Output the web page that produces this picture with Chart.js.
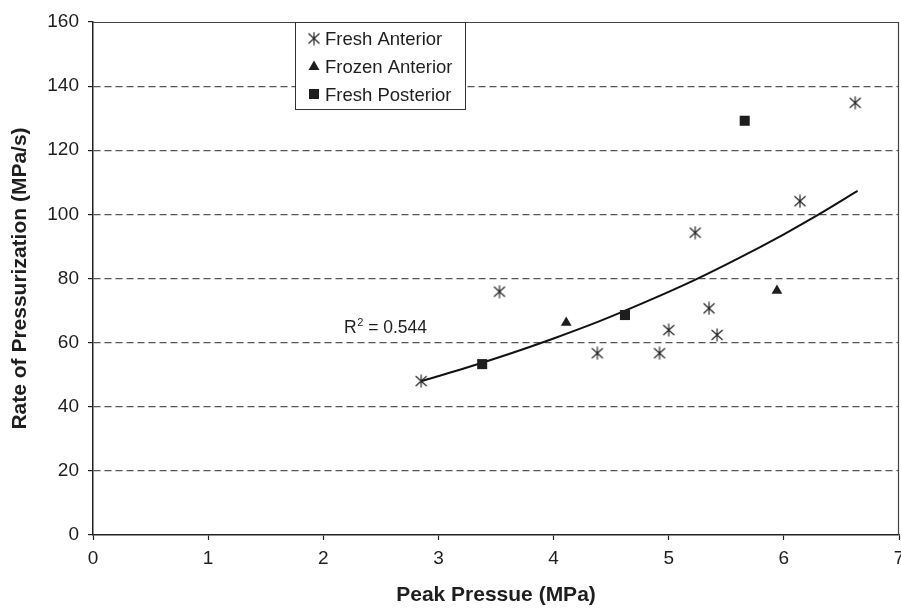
<!DOCTYPE html>
<html>
<head>
<meta charset="utf-8">
<script src="https://cdn.jsdelivr.net/npm/chart.js@4"></script>
<style>
  html, body { margin: 0; padding: 0; background: #fff; overflow: hidden; }
  #wrap { width: 901px; height: 609px; overflow: hidden; }
</style>
</head>
<body>
<div id="wrap"><canvas id="chart" width="907" height="609"></canvas></div>
<script>
// ── Data ──────────────────────────────────────────────────
const freshAntX  = [2.85, 3.53, 4.38, 4.92, 5.00, 5.35, 5.42, 5.23, 6.14, 6.62];
const freshAntY  = [48.0, 75.9, 56.7, 56.7, 63.9, 70.7, 62.4, 94.3, 104.1, 134.8];
const frozenAntX = [4.11, 5.94];
const frozenAntY = [66.2, 76.2];
const freshPostX = [3.38, 4.62, 5.66];
const freshPostY = [53.3, 68.6, 129.2];
const trendX     = [2.85, 3.2, 3.6, 4.0, 4.4, 4.8, 5.2, 5.6, 6.0, 6.3, 6.64];
const trendY     = [48.0, 51.7, 56.3, 61.3, 66.7, 72.7, 79.1, 86.2, 93.8, 99.9, 107.3];
const seriesNames = ["Fresh Anterior", "Frozen Anterior", "Fresh Posterior"];
const xTicks = [0, 1, 2, 3, 4, 5, 6, 7];
const yTicks = [0, 20, 40, 60, 80, 100, 120, 140, 160];
const r2Text = "0.544";

const pts = (xs, ys) => xs.map((x, i) => ({ x, y: ys[i] }));
const INK = "#1e1e1e";

// ── Asterisk marker (6 arms) ──────────────────────────────
function makeAsterisk() {
  const c = document.createElement("canvas");
  c.width = 14; c.height = 14;
  const g = c.getContext("2d");
  g.strokeStyle = "#222"; g.lineWidth = 1.15;
  g.beginPath();
  g.moveTo(1.5, 2); g.lineTo(12.5, 12);
  g.moveTo(12.5, 2); g.lineTo(1.5, 12);
  g.moveTo(7, 0.5); g.lineTo(7, 13.5);
  g.stroke();
  return c;
}
const asterisk = makeAsterisk();

// ── Plot border, legend box, R² label ─────────────────────
const decor = {
  id: "decor",
  beforeDatasetsDraw(chart) {
    const { ctx, chartArea: a } = chart;
    ctx.save();
    ctx.strokeStyle = "#444"; ctx.lineWidth = 1.2;
    ctx.beginPath();
    ctx.moveTo(a.left, a.top + 0.5); ctx.lineTo(a.right - 0.5, a.top + 0.5);
    ctx.lineTo(a.right - 0.5, a.bottom);
    ctx.stroke();
    ctx.restore();
  },
  afterDraw(chart) {
    const { ctx, scales } = chart;
    ctx.save();
    // legend
    const L = 295.5, T = 22.5, W = 170, H = 87;
    ctx.fillStyle = "#fff"; ctx.fillRect(L, T, W, H);
    ctx.strokeStyle = "#333"; ctx.lineWidth = 1; ctx.strokeRect(L, T, W, H);
    ctx.font = "18.5px 'Liberation Sans', Arial, sans-serif";
    ctx.fillStyle = INK; ctx.textBaseline = "alphabetic"; ctx.textAlign = "left";
    const rows = [45, 72.5, 100.5];
    rows.forEach((by, i) => {
      const mx = 314, my = by - 6.5;
      if (i === 0) ctx.drawImage(asterisk, mx - 7, my - 7);
      if (i === 1) {
        ctx.beginPath();
        ctx.moveTo(mx, my - 5.5); ctx.lineTo(mx + 5.5, my + 4); ctx.lineTo(mx - 5.5, my + 4);
        ctx.closePath(); ctx.fill();
      }
      if (i === 2) ctx.fillRect(mx - 5, my - 5, 10, 10);
      ctx.fillText(seriesNames[i], 325, by);
    });
    // R² label
    const x0 = scales.x.getPixelForValue(2.18);
    const base = scales.y.getPixelForValue(63);
    ctx.font = "17.5px 'Liberation Sans', Arial, sans-serif";
    ctx.fillText("R", x0, base);
    let x1 = x0 + ctx.measureText("R").width;
    ctx.font = "11px 'Liberation Sans', Arial, sans-serif";
    ctx.fillText("2", x1 + 0.5, base - 7);
    x1 += ctx.measureText("2").width + 0.5;
    ctx.font = "17.5px 'Liberation Sans', Arial, sans-serif";
    ctx.fillText(" = " + r2Text, x1, base);
    ctx.restore();
  }
};

const tickFont = { family: "'Liberation Sans', Arial, sans-serif", size: 19 };
const titleFont = { family: "'Liberation Sans', Arial, sans-serif", size: 21, weight: "bold" };

new Chart(document.getElementById("chart").getContext("2d"), {
  type: "scatter",
  data: {
    datasets: [
      {
        label: seriesNames[0],
        data: pts(freshAntX, freshAntY),
        pointStyle: asterisk, pointRadius: 7, pointHoverRadius: 7,
      },
      {
        label: seriesNames[1],
        data: pts(frozenAntX, frozenAntY),
        pointStyle: "triangle", pointRadius: 6.2,
        backgroundColor: INK, borderColor: INK, borderWidth: 0,
      },
      {
        label: seriesNames[2],
        data: pts(freshPostX, freshPostY),
        pointStyle: "rect", pointRadius: 7.1,
        backgroundColor: INK, borderColor: INK, borderWidth: 0,
      },
      {
        label: "trend",
        data: pts(trendX, trendY),
        showLine: true, pointRadius: 0, borderColor: "#111", borderWidth: 2,
        cubicInterpolationMode: "monotone", order: 5,
      },
    ],
  },
  options: {
    responsive: false,
    animation: false,
    events: [],
    layout: { padding: { top: 22, right: 3, left: 0, bottom: 1 } },
    plugins: { legend: { display: false }, tooltip: { enabled: false } },
    scales: {
      x: {
        type: "linear", min: 0, max: 7,
        afterBuildTicks: s => { s.ticks = xTicks.map(v => ({ value: v })); },
        afterFit: s => { s.height = 73; s.paddingRight = 0; s.paddingLeft = 0; },
        ticks: { color: INK, font: tickFont, padding: 7 },
        grid: { drawOnChartArea: false, drawTicks: true, tickLength: 5, tickColor: "#222", tickWidth: 1.2 },
        border: { color: "#222", width: 1.5 },
        title: { display: true, text: "Peak Pressue (MPa)", color: INK, font: titleFont, padding: { top: 0, bottom: 0 } },
      },
      y: {
        type: "linear", min: 0, max: 160,
        afterBuildTicks: s => { s.ticks = yTicks.map(v => ({ value: v })); },
        afterFit: s => { s.width = 93; s.paddingTop = 0; s.paddingBottom = 0; },
        ticks: { color: INK, font: tickFont, padding: 9 },
        grid: {
          color: c => (c.tick && (c.tick.value === 0 || c.tick.value === 160)) ? "rgba(0,0,0,0)" : "#555",
          lineWidth: 1.2, tickLength: 5, tickColor: "#222", tickWidth: 1.2,
        },
        border: { color: "#222", width: 1.5, dash: [7, 4] },
        title: { display: true, text: "Rate of Pressurization (MPa/s)", color: INK, font: titleFont, padding: { top: 8, bottom: 0 } },
      },
    },
  },
  plugins: [decor],
});
</script>
</body>
</html>
